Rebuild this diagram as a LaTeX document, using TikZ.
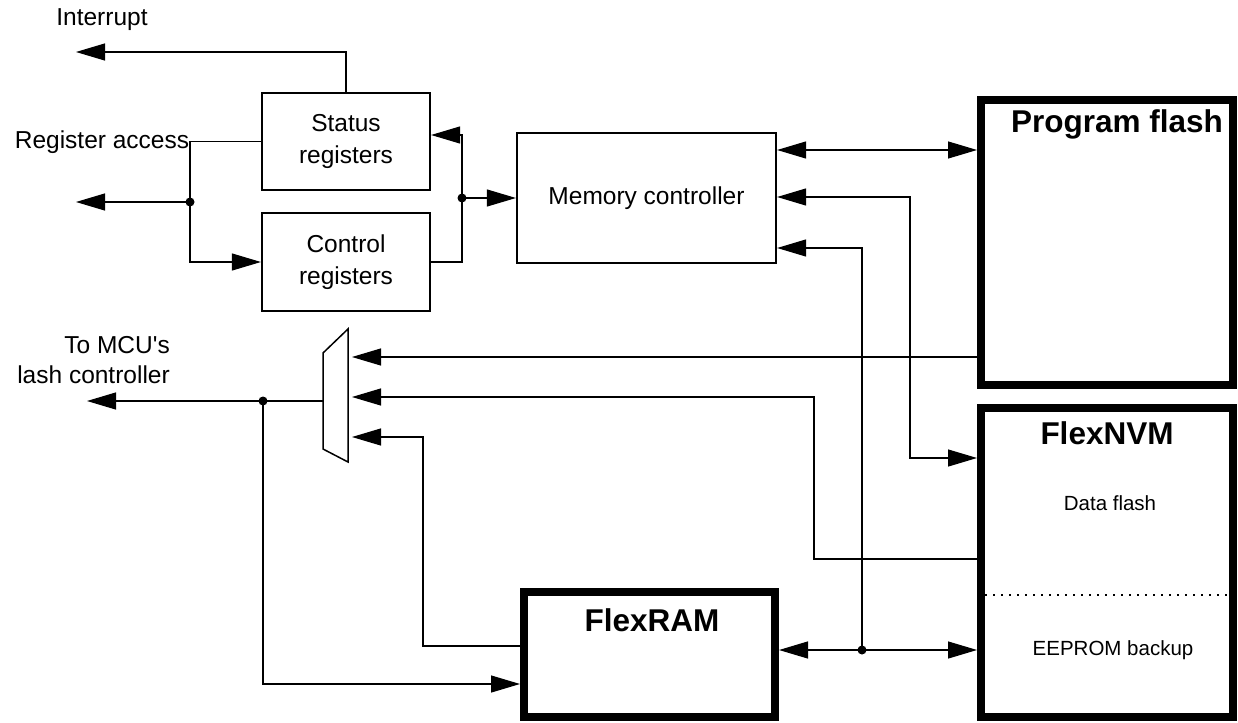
\documentclass[tikz,border=0pt]{standalone}
\usepackage{fontspec}
\setmainfont{Liberation Sans}
\usetikzlibrary{arrows.meta,positioning}

\begin{document}
\begin{tikzpicture}[x=1pt, y=-1pt,
  reg/.style={rectangle, draw, line width=2.2pt, align=center, font=\fontsize{24.5}{32}\selectfont},
  mem/.style={rectangle, draw, line width=8pt},
  title/.style={font=\fontsize{31.5}{36}\selectfont\bfseries, inner sep=0pt},
  txt/.style={font=\fontsize{24.5}{30}\selectfont, inner sep=0pt},
  small/.style={font=\fontsize{20.5}{24}\selectfont, inner sep=0pt},
  arrow/.style={-{Triangle[length=29pt, width=17pt]}, line width=1.2pt},
  biarrow/.style={{Triangle[length=29pt, width=17pt]}-{Triangle[length=29pt, width=17pt]}, line width=1.2pt},
  wire/.style={line width=1.2pt}
]
\useasboundingbox (0,0) rectangle (1238,722);

% blocks
\node[reg, minimum width=168pt, minimum height=97pt] (st) at (346,141.5) {Status\\registers};
\node[reg, minimum width=168pt, minimum height=98pt] (ctrl) at (346,262) {Control\\registers};
\node[reg, minimum width=259pt, minimum height=130pt] (mc) at (646.5,198) {Memory controller};
\node[mem, minimum width=252pt, minimum height=285pt] (pf) at (1107,242.5) {};
\node[mem, minimum width=252pt, minimum height=309pt] (nvm) at (1107,562.5) {};
\node[mem, minimum width=251pt, minimum height=125pt] (ram) at (649.5,654.5) {};

\node[title] at (1117,124) {Program flash};
\node[title] at (1107,433) {FlexNVM};
\node[small] at (1110,503) {Data flash};
\node[small] at (1113,650) {EEPROM backup};
\node[title] at (652,620) {FlexRAM};
\draw[line width=2pt, dash pattern=on 2pt off 6pt] (985,595) -- (1229,595);

% labels
\node[txt] (intlbl) at (102,20) {Interrupt};
\node[txt] (ralbl) at (102,142) {Register access};
\node[txt, align=right, anchor=east] (mculbl) at (170,360) {To MCU\textquotesingle s\\lash controller};

% mux
\coordinate (mo) at (323,401);
\draw[line width=1.5pt] (323,353) -- (348,329) -- (348,462) -- (323,449) -- cycle;
\coordinate (m1) at (352,357);
\coordinate (m2) at (352,397);
\coordinate (m3) at (352,437);

% junctions and free ends
\coordinate (intr) at (76,52);
\coordinate (ra) at (190,141.5);
\coordinate (rj) at (190,202);
\coordinate (racc) at (76,202);
\coordinate (mj) at (462,198);
\coordinate (mcu) at (87,401);
\coordinate (oj) at (263,401);
\coordinate (nvbus) at (910,300);
\coordinate (bj) at (862,650);
\coordinate (dfl) at (814,480);
\coordinate (rl) at (423,540);

% register side
\draw[arrow] (st.north) |- (intr);
\draw[wire] (st.west) -- (ra) -- (rj);
\draw[arrow] (rj) -- (racc);
\draw[arrow] (rj) |- (ctrl.west);
\draw[arrow] (mj) |- ([yshift=6.5pt]st.east);
\draw[wire] (ctrl.east) -| (mj);
\draw[arrow] (mj) -- (mc.west);
\fill (rj) circle (4.5pt);
\fill (mj) circle (4.5pt);

% memory controller side
\draw[biarrow] ([yshift=48pt]mc.east) -- ([yshift=48pt]mc.east -| pf.west);
\draw[biarrow] ([yshift=1pt]mc.east) -| (nvbus) |- ([yshift=104.5pt]nvm.west);
\draw[arrow] (bj) |- ([yshift=-50pt]mc.east);
\draw[biarrow] (ram.east |- bj) -- (nvm.west |- bj);
\fill (bj) circle (4.5pt);

% mux side
\draw[arrow] (mo) -- (mcu);
\draw[arrow] (oj) |- ([yshift=-29.5pt]ram.west);
\fill (oj) circle (4.5pt);
\draw[arrow] (pf.west |- m1) -- (m1);
\draw[arrow] ([yshift=3.5pt]nvm.west) -| (dfl) |- (m2);
\draw[arrow] ([yshift=8.5pt]ram.west) -| (rl) |- (m3);
\end{tikzpicture}
\end{document}
